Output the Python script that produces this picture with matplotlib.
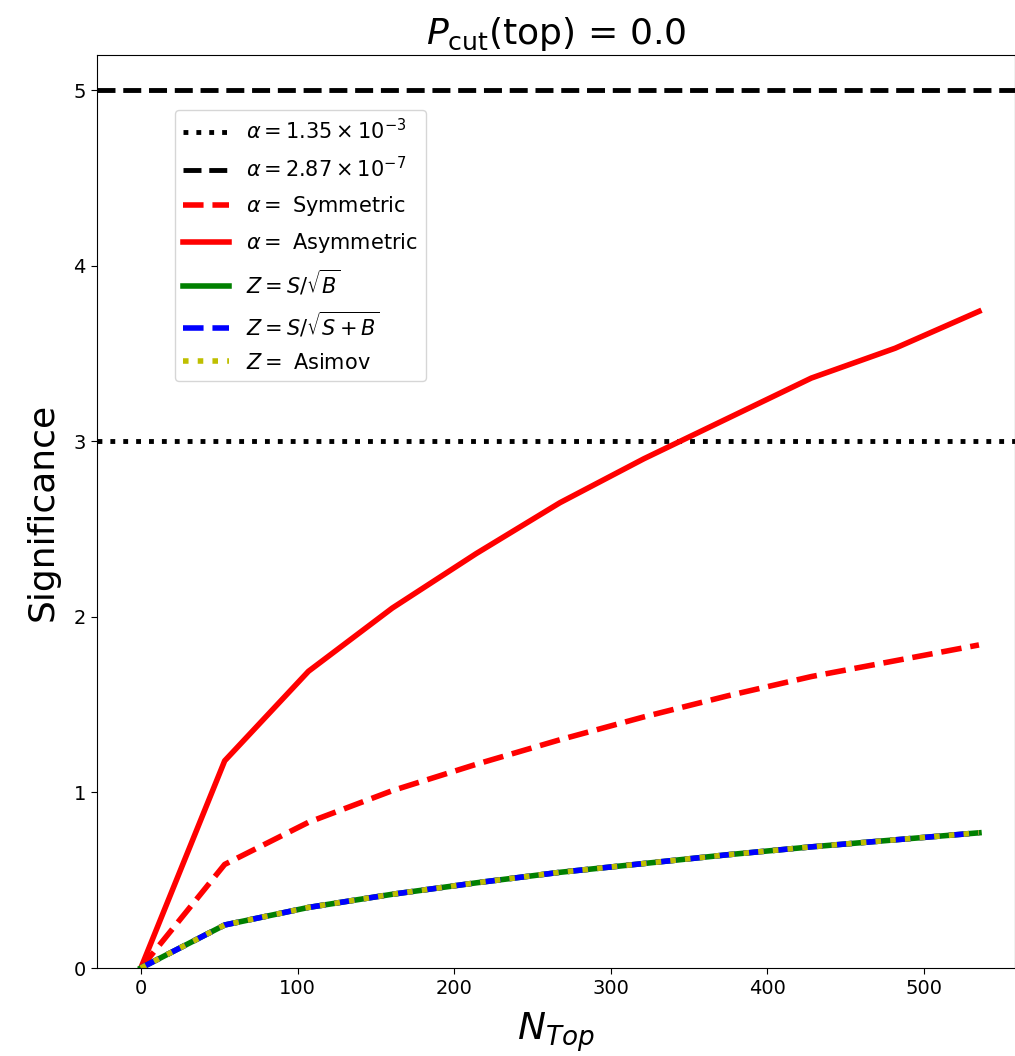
import matplotlib
matplotlib.use("Agg")
import matplotlib.pyplot as plt

n_top = [0, 53.5, 107, 160.5, 214, 267.5, 321, 374.5, 428, 481.5, 535]
asym = [0.0, 1.18, 1.69, 2.05, 2.36, 2.65, 2.90, 3.13, 3.36, 3.53, 3.74]
sym = [0.0, 0.59, 0.83, 1.01, 1.16, 1.30, 1.43, 1.55, 1.66, 1.75, 1.84]
z_sb = [0.0, 0.245, 0.345, 0.42, 0.485, 0.545, 0.595, 0.645, 0.69, 0.73, 0.77]
z_ssb = [0.0, 0.245, 0.345, 0.42, 0.485, 0.545, 0.595, 0.645, 0.69, 0.73, 0.77]
z_asimov = [0.0, 0.245, 0.345, 0.42, 0.485, 0.545, 0.595, 0.645, 0.69, 0.73, 0.77]

fig = plt.figure(figsize=(10.15, 10.56), dpi=100)
ax = fig.add_axes([97/1015, 88/1056, 918/1015, 913/1056])

ax.axhline(3, color='k', ls=':', lw=3.5, label=r'$\alpha=1.35\times10^{-3}$')
ax.axhline(5, color='k', ls='--', lw=3.5, label=r'$\alpha=2.87\times10^{-7}$')
ax.plot(n_top, sym, color='r', ls='--', lw=4, label=r'$\alpha=$ Symmetric')
ax.plot(n_top, asym, color='r', ls='-', lw=4, label=r'$\alpha=$ Asymmetric')
ax.plot(n_top, z_sb, color='g', ls='-', lw=4, label=r'$Z=S/\sqrt{B}$')
ax.plot(n_top, z_ssb, color='b', ls='--', lw=4, label=r'$Z=S/\sqrt{S+B}$')
ax.plot(n_top, z_asimov, color='y', ls=':', lw=4, label=r'$Z=$ Asimov')

ax.set_ylim(0, 5.2)
ax.set_xlim(-28, 558)
ax.set_xticks([0, 100, 200, 300, 400, 500])
ax.set_yticks([0, 1, 2, 3, 4, 5])
ax.tick_params(labelsize=14, length=4.5)
ax.set_title(r'$P_{\rm cut}$(top) = 0.0', fontsize=26, pad=8)
ax.set_ylabel('Significance', fontsize=26, labelpad=10)
ax.set_xlabel(r'$N_{Top}$', fontsize=27, labelpad=9)

ax.legend(loc='upper left', bbox_to_anchor=(0.085, 0.94), fontsize=15,
          handlelength=2.2, labelspacing=0.62, borderaxespad=0)

fig.savefig('out.png', dpi=100)
